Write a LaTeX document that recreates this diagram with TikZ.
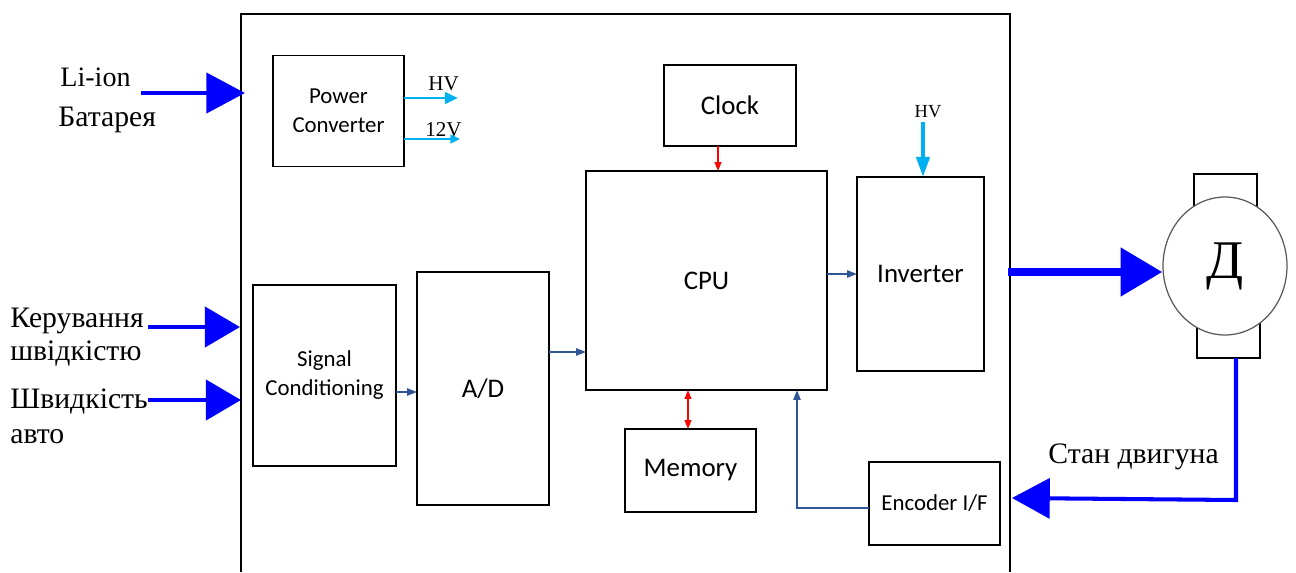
\documentclass[tikz,border=0pt]{standalone}
\usepackage{fontspec}
\setmainfont{Liberation Serif}
\newfontfamily\calib{Carlito}
\usetikzlibrary{arrows.meta,shapes.geometric}
\definecolor{lblue}{HTML}{00B0F0}
\definecolor{dblue}{HTML}{2F5597}
\definecolor{pblue}{HTML}{0000FF}
\definecolor{pred}{HTML}{FF0000}
\tikzset{
  blk/.style={draw=black, line width=1.1pt, fill=white, inner sep=0pt, outer sep=0pt, align=center, font=\calib\fontsize{15.3}{18}\selectfont},
  blks/.style={blk, font=\calib\fontsize{13}{16.5}\selectfont},
  lbl/.style={inner sep=0pt, anchor=base west, font=\fontsize{16.9}{19}\selectfont},
  bigarr/.style={draw=pblue, line width=2.8pt, -{Triangle[length=22pt,width=22.7pt]}},
  sigarr/.style={draw=dblue, line width=0.9pt, -{Triangle[length=5.7pt,width=4.2pt]}},
  redarr/.style={draw=pred, line width=0.9pt, -{Triangle[length=5pt,width=3.8pt]}},
  redbi/.style={draw=pred, line width=0.9pt, {Triangle[length=5pt,width=3.8pt]}-{Triangle[length=5pt,width=3.8pt]}},
}
\begin{document}
\begin{tikzpicture}[x=0.02cm,y=-0.02cm]
\useasboundingbox (0,0) rectangle (1296,572);
% frame
\draw[line width=1.1pt] (241,572) -- (241,14) -- (1010,14) -- (1010,572);
% blocks
\node[blks, minimum width=2.62cm, minimum height=2.22cm] (pc) at (338.5,111) {Power\\Converter};
\node[blk, minimum width=2.64cm, minimum height=1.62cm] (clock) at (730,105.5) {Clock};
\node[blk, minimum width=4.82cm, minimum height=4.38cm] (cpu) at (706.5,280.5) {CPU};
\node[blk, minimum width=2.54cm, minimum height=3.88cm] (inv) at (920.5,274) {Inverter};
\node[blks, minimum width=2.86cm, minimum height=3.62cm] (sc) at (324.5,375.5) {Signal\\Conditioning};
\node[blk, minimum width=2.64cm, minimum height=4.66cm] (ad) at (483,388.5) {A/D};
\node[blk, minimum width=2.62cm, minimum height=1.66cm] (mem) at (690.5,470.5) {Memory};
\node[blks, minimum width=2.62cm, minimum height=1.66cm] (enc) at (934.5,503.5) {Encoder I/F};
% motor
\draw[line width=1.1pt] (1194,215) -- (1194,174) -- (1257,174) -- (1257,215);
\draw[line width=1.1pt] (1197,315) -- (1197,358) -- (1260,358) -- (1260,315);
\node[ellipse, draw=black!65, line width=0.7pt, fill=white, inner sep=0pt, minimum width=2.48cm, minimum height=2.76cm, font=\fontsize{31}{33}\selectfont] (motor) at (1225,266) {Д};
% power converter outputs
\coordinate (hvend) at (458,98);
\coordinate (v12end) at (460,139);
\draw[draw=lblue, line width=1.7pt, -{Triangle[length=7.5pt,width=6.5pt]}] (pc.east |- hvend) -- (hvend);
\draw[draw=lblue, line width=1.1pt, -{Triangle[length=5.5pt,width=5pt]}] (pc.east |- v12end) -- (v12end);
\node[lbl, font=\fontsize{12}{14}\selectfont] (hvl) at (428,90) {HV};
\node[lbl, font=\fontsize{12}{14}\selectfont] (v12l) at (425,136) {12V};
% inverter HV
\node[inner sep=0pt, anchor=base, font=\fontsize{10.5}{12}\selectfont] (hv2) at (928,117) {HV};
\coordinate (hv2s) at (923,122);
\draw[draw=lblue, line width=2.3pt, -{Triangle[length=11.5pt,width=7.5pt]}] (hv2s) -- (inv.north -| hv2s);
% internal signals
\draw[redarr] (clock.south -| 718,0) -- (cpu.north -| 718,0);
\draw[redbi] (cpu.south -| 688,0) -- (mem.north -| 688,0);
\draw[sigarr] (cpu.east |- inv.west) -- (inv.west);
\draw[sigarr] (ad.east |- {0,352}) -- (cpu.west |- {0,352});
\draw[sigarr] (sc.east |- {0,392}) -- (ad.west |- {0,392});
\draw[sigarr] (enc.west |- {0,508}) -| (cpu.south -| 797,0);
% inputs
\coordinate (li0) at (141,93);
\coordinate (li1) at (245,93);
\draw[bigarr] (li0) -- (li1);
\node[lbl, font=\fontsize{16}{18}\selectfont] (lit) at (60,86) {Li-ion};
\node[lbl] (bat) at (58,126) {Батарея};
\coordinate (k0) at (148,327);
\coordinate (k1) at (240,327);
\draw[bigarr, -{Triangle[length=20pt,width=22.7pt]}] (k0) -- (k1);
\node[lbl] (ker1) at (10,327) {Керування};
\node[lbl] (ker2) at (10,360) {швідкістю};
\coordinate (s0) at (148,400);
\coordinate (s1) at (241,400);
\draw[bigarr, -{Triangle[length=20pt,width=22.7pt]}] (s0) -- (s1);
\node[lbl] (sh1) at (10,408) {Швидкість};
\node[lbl] (sh2) at (10,443) {авто};
% motor drive
\coordinate (m0) at (1008,272);
\draw[draw=pblue, line width=5.1pt, -{Triangle[length=23.8pt,width=26.6pt]}] (m0) -- (motor.west |- m0);
% feedback
\coordinate (fb0) at (1236,358);
\coordinate (fb1) at (1236,500);
\coordinate (fb2) at (1012,498);
\draw[draw=pblue, line width=2.3pt, line join=miter, -{Triangle[length=21.5pt,width=22.7pt]}] (fb0) -- (fb1) -- (fb2);
\node[lbl] (stan) at (1048,463) {Стан двигуна};
\end{tikzpicture}
\end{document}
